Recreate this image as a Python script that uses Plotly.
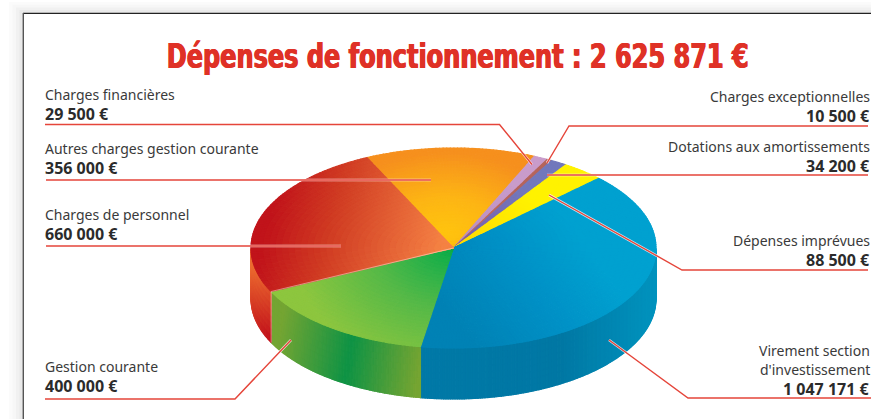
import math
import plotly.graph_objects as go

# ---- data ----
categories = ["Autres charges gestion courante", "Charges financières", "Charges exceptionnelles",
              "Dotations aux amortissements", "Dépenses imprévues", "Virement section\nd'investissement",
              "Gestion courante", "Charges de personnel"]
values = [356000, 29500, 10500, 34200, 88500, 1047171, 400000, 660000]
title_prefix = "Dépenses de fonctionnement"

# ---- geometry / style ----
CX, CY, RX, RY, DEPTH = 453.5, 248.0, 202.5, 100.0, 51.0
START_ANGLE = 115.3
LEVELS = 64

def hexrgb(h):
    return tuple(int(h[i:i + 2], 16) for i in (1, 3, 5))

def ramp(stops, t):
    t = max(0.0, min(1.0, t))
    for (a, ca), (b, cb) in zip(stops, stops[1:]):
        if t <= b:
            u = (t - a) / (b - a)
            ca, cb = hexrgb(ca), hexrgb(cb)
            return "rgb(%d,%d,%d)" % tuple(round(p + (q - p) * u) for p, q in zip(ca, cb))
    return stops[-1][1]

def apex_dist(x, y):
    return math.hypot(x - CX, (y - CY) * 1.25)

top_styles = [
    ([(0, "#FFC40F"), (0.45, "#FDB515"), (1, "#F6901E")], lambda x, y: math.hypot(x - 445, (y - 232) * 1.5) / 120),
    ([(0, "#B58CC0"), (1, "#C99CCB")], lambda x, y: apex_dist(x, y) / 100),
    ([(0, "#C9705A"), (1, "#B5655C")], lambda x, y: apex_dist(x, y) / 100),
    ([(0, "#7F5BA6"), (1, "#7278BC")], lambda x, y: apex_dist(x, y) / 100),
    ([(0, "#FFD800"), (1, "#FFF200")], lambda x, y: apex_dist(x, y) / 100),
    ([(0, "#0082B5"), (0.55, "#0091C6"), (1, "#00A1D0")], lambda x, y: ((x - 440) * 0.8 - (y - 300) * 0.6) / 150),
    ([(0, "#14AE4B"), (0.45, "#55B948"), (1, "#8DC63F")], lambda x, y: (apex_dist(x, y) - 10) / 150),
    ([(0, "#C1141B"), (0.35, "#D03C23"), (1, "#F58346")], lambda x, y: ((x - 268) + (y - 230) * 0.25) / 180),
]
rim_styles = {
    5: ([(0, "#0079A7"), (0.6, "#0078A4"), (1, "#0093BE")], lambda x, y: (x - 420) / 236),
    6: ([(0, "#74A533"), (0.5, "#0E9345"), (1, "#76A532")], lambda x, y: (x - 275) / 145 + (y - 370) / 900),
    7: ([(0, "#EC6B30"), (1, "#C3141C")], lambda x, y: (y - 270) / 68),
}

def pt(theta, r=1.0, dz=0.0):
    a = math.radians(theta)
    return CX + RX * r * math.cos(a), CY - RY * r * math.sin(a) + dz

total = sum(values)
angles = [START_ANGLE]
for v in values:
    angles.append(angles[-1] - v / total * 360)

fig = go.Figure()

def flush(buckets, stops):
    for level in sorted(buckets):
        xs, ys = buckets[level]
        col = ramp(stops, level / (LEVELS - 1))
        fig.add_trace(go.Scatter(x=xs, y=ys, mode="lines", fill="toself", fillcolor=col,
                                 line=dict(color=col, width=1.1), hoverinfo="skip", showlegend=False))

def add_cell(buckets, p, fn):
    mx = sum(q[0] for q in p) / 4
    my = sum(q[1] for q in p) / 4
    lv = round(max(0, min(1, fn(mx, my))) * (LEVELS - 1))
    b = buckets.setdefault(lv, ([], []))
    b[0].extend([round(q[0], 2) for q in p] + [round(p[0][0], 2), None])
    b[1].extend([round(q[1], 2) for q in p] + [round(p[0][1], 2), None])

# rim
for i, (stops, fn) in rim_styles.items():
    a0n = min(angles[i], 0)
    a1n = max(angles[i + 1], -180)
    n = max(4, int(abs(a1n - a0n) / 0.5))
    rows = 8
    buckets = {}
    for k in range(n):
        t0 = a0n + (a1n - a0n) * k / n
        t1 = a0n + (a1n - a0n) * (k + 1) / n
        for j in range(rows):
            d0, d1 = DEPTH * j / rows, DEPTH * (j + 1) / rows
            add_cell(buckets, [pt(t0, 1, d0), pt(t1, 1, d0), pt(t1, 1, d1), pt(t0, 1, d1)], fn)
    flush(buckets, stops)

# top faces
for i, (stops, fn) in enumerate(top_styles):
    a0, a1 = angles[i], angles[i + 1]
    nt = max(2, int(abs(a1 - a0) / 1.0))
    nr = 32
    buckets = {}
    for k in range(nt):
        t0 = a0 + (a1 - a0) * k / nt
        t1 = a0 + (a1 - a0) * (k + 1) / nt
        for j in range(nr):
            r0, r1 = j / nr, (j + 1) / nr
            add_cell(buckets, [pt(t0, r0), pt(t1, r0), pt(t1, r1), pt(t0, r1)], fn)
    flush(buckets, stops)

# thin light seams
a_gr = angles[7]
seam = [pt(a_gr, 0), pt(a_gr, 1), pt(a_gr, 1, DEPTH)]
fig.add_trace(go.Scatter(x=[q[0] for q in seam], y=[q[1] for q in seam], mode="lines",
                         line=dict(color="rgba(255,255,255,0.55)", width=0.8),
                         hoverinfo="skip", showlegend=False))

shapes = []
# page surround and frame
for k, col in enumerate(["#FBFBFB", "#F7F7F7", "#F1F1F1", "#E9E9E9"]):
    shapes.append(dict(type="rect", xref="x", yref="y", x0=9 + k * 3.5, x1=23, y0=9 + k * 1, y1=419,
                       fillcolor=col, line_width=0, layer="below"))
    shapes.append(dict(type="rect", xref="x", yref="y", x0=9 + k * 3.5, x1=871, y0=2 + k * 2.7, y1=13,
                       fillcolor=col, line_width=0, layer="below"))
shapes.append(dict(type="line", xref="x", yref="y", x0=23, x1=871, y0=13.3, y1=13.3,
                   line=dict(color="#222222", width=1.2), layer="below"))
shapes.append(dict(type="line", xref="x", yref="y", x0=23.3, x1=23.3, y0=13, y1=419,
                   line=dict(color="#555555", width=1.4), layer="below"))

# leader lines
leaders = [
    [(45, 124.5), (499.5, 124.5), (532, 164.5)],
    [(46, 180), (431, 180)],
    [(46, 246), (341, 246)],
    [(45, 399), (235, 399), (291, 340)],
    [(868, 126), (569, 126), (547, 163)],
    [(868, 175), (547, 175)],
    [(868, 270), (682, 270), (549, 195)],
    [(871, 398), (688, 398), (609, 340)],
]
for path in leaders:
    xs, ys = zip(*path)
    fig.add_trace(go.Scatter(x=xs, y=ys, mode="lines", line=dict(color="rgba(255,255,255,0.8)", width=2.6),
                             hoverinfo="skip", showlegend=False))
    fig.add_trace(go.Scatter(x=xs, y=ys, mode="lines", line=dict(color="#E5453A", width=1.4),
                             hoverinfo="skip", showlegend=False))

# text
def money(v):
    return f"{v:,}".replace(",", " ") + " €"

LABEL_FONT = "Noto Sans"
label_pos = [  # x, y of the value line centre, anchor
    (42.5, 168, "left"), (42.5, 114, "left"), (870, 116, "right"), (870, 166, "right"),
    (870, 260, "right"), (870, 389, "right"), (42.5, 386, "left"), (42.5, 234, "left"),
]
ann = []
for name, v, (x, y, anchor) in zip(categories, values, label_pos):
    shift = 2 if anchor == "right" else 0
    ann.append(dict(x=x, y=y, xshift=shift, xref="x", yref="y", xanchor=anchor, yanchor="middle", showarrow=False,
                    text=f"<b>{money(v)}</b>", font=dict(family=LABEL_FONT, size=16, color="#2B2B2B")))
    lines = name.split("\n")
    for j, line in enumerate(reversed(lines)):
        ann.append(dict(x=x, y=y - 19.5 - j * 19.5, xshift=shift, xref="x", yref="y", xanchor=anchor, yanchor="middle",
                        showarrow=False, text=line,
                        font=dict(family=LABEL_FONT, size=14, color="#3A3A3A")))
ann.append(dict(x=458, y=56, xref="x", yref="y", xanchor="center", yanchor="middle", showarrow=False,
                text=f"<b>{title_prefix} : {money(total)}</b>",
                font=dict(family="DejaVu Sans", size=33, color="#DF3126",
                          shadow="0.7px 0 0 #DF3126, -0.7px 0 0 #DF3126")))

fig.update_layout(width=871, height=419, margin=dict(l=0, r=0, t=0, b=0), showlegend=False,
                  paper_bgcolor="white", plot_bgcolor="white", shapes=shapes, annotations=ann,
                  xaxis=dict(range=[0, 871], visible=False, fixedrange=True),
                  yaxis=dict(range=[419, 0], visible=False, fixedrange=True))

post = """
document.body.style.margin='0';document.body.style.overflow='hidden';
document.querySelectorAll('.annotation-text').forEach(function(t){
  if(t.textContent.indexOf('fonctionnement')>=0){
    var b=t.getBBox(),cx=b.x+b.width/2,s=582/b.width;
    t.setAttribute('transform','translate('+cx+' 0) scale('+s+' 1) translate('+(-cx)+' 0)');
  }
});
"""
fig.write_html("out.html", config={"displayModeBar": False}, post_script=post)
